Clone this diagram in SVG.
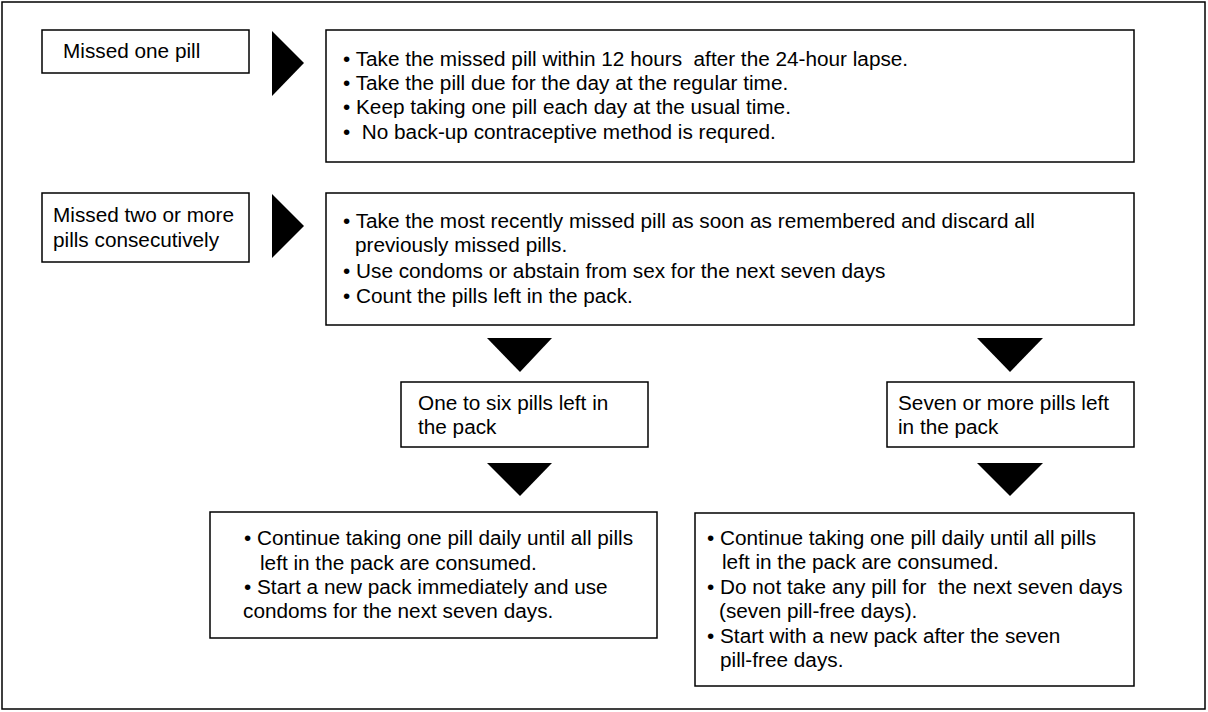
<svg xmlns="http://www.w3.org/2000/svg" width="1208" height="712" viewBox="0 0 1208 712">
<style>
.box{fill:#fff;stroke:#000;stroke-width:1.5}
.t{font-family:"Liberation Sans",Arial,Helvetica,sans-serif;font-size:20.75px;fill:#000;white-space:pre}
.arr{fill:#000}
</style>
<rect x="0" y="0" width="1208" height="712" fill="#fff"/>
<rect x="2" y="2" width="1203" height="707" fill="none" stroke="#000" stroke-width="1.5"/>
<g id="connectors">
<polygon class="arr" points="272,31 304,63 272,96"/>
<polygon class="arr" points="272,194 304,226 272,258"/>
<polygon class="arr" points="487,338 552,338 520,372"/>
<polygon class="arr" points="487,463 552,463 520,496"/>
<polygon class="arr" points="977,338 1043,338 1010,372"/>
<polygon class="arr" points="977,463 1043,463 1010,496"/>
</g>
<g id="missed-one">
<rect class="box" x="42" y="30" width="207" height="43"/>
<text class="t" x="63" y="58">Missed one pill</text>
</g>
<g id="missed-one-actions">
<rect class="box" x="326" y="30" width="808" height="132"/>
<text class="t" x="343" y="66" xml:space="preserve">• Take the missed pill within 12 hours  after the 24-hour lapse.</text>
<text class="t" x="343" y="90">• Take the pill due for the day at the regular time.</text>
<text class="t" x="343" y="114">• Keep taking one pill each day at the usual time.</text>
<text class="t" x="343" y="139" xml:space="preserve">•  No back-up contraceptive method is requred.</text>
</g>
<g id="missed-two">
<rect class="box" x="42" y="193" width="207" height="69"/>
<text class="t" x="53" y="222">Missed two or more</text>
<text class="t" x="53" y="247">pills consecutively</text>
</g>
<g id="missed-two-actions">
<rect class="box" x="326" y="193" width="808" height="132"/>
<text class="t" x="343" y="228">• Take the most recently missed pill as soon as remembered and discard all</text>
<text class="t" x="355" y="252">previously missed pills.</text>
<text class="t" x="343" y="278">• Use condoms or abstain from sex for the next seven days</text>
<text class="t" x="343" y="303">• Count the pills left in the pack.</text>
</g>
<g id="one-to-six">
<rect class="box" x="401" y="382" width="247" height="65"/>
<text class="t" x="418" y="410">One to six pills left in</text>
<text class="t" x="418" y="434">the pack</text>
</g>
<g id="seven-or-more">
<rect class="box" x="887" y="382" width="247" height="65"/>
<text class="t" x="898" y="410">Seven or more pills left</text>
<text class="t" x="898" y="434">in the pack</text>
</g>
<g id="one-to-six-actions">
<rect class="box" x="210" y="512" width="447" height="126"/>
<text class="t" x="244" y="545">• Continue taking one pill daily until all pills</text>
<text class="t" x="260" y="570">left in the pack are consumed.</text>
<text class="t" x="244" y="594">• Start a new pack immediately and use</text>
<text class="t" x="243" y="618">condoms for the next seven days.</text>
</g>
<g id="seven-or-more-actions">
<rect class="box" x="695" y="513" width="439" height="173"/>
<text class="t" x="707" y="545">• Continue taking one pill daily until all pills</text>
<text class="t" x="722" y="569">left in the pack are consumed.</text>
<text class="t" x="707" y="594" xml:space="preserve">• Do not take any pill for  the next seven days</text>
<text class="t" x="719" y="618">(seven pill-free days).</text>
<text class="t" x="707" y="643">• Start with a new pack after the seven</text>
<text class="t" x="720" y="667">pill-free days.</text>
</g>
</svg>
